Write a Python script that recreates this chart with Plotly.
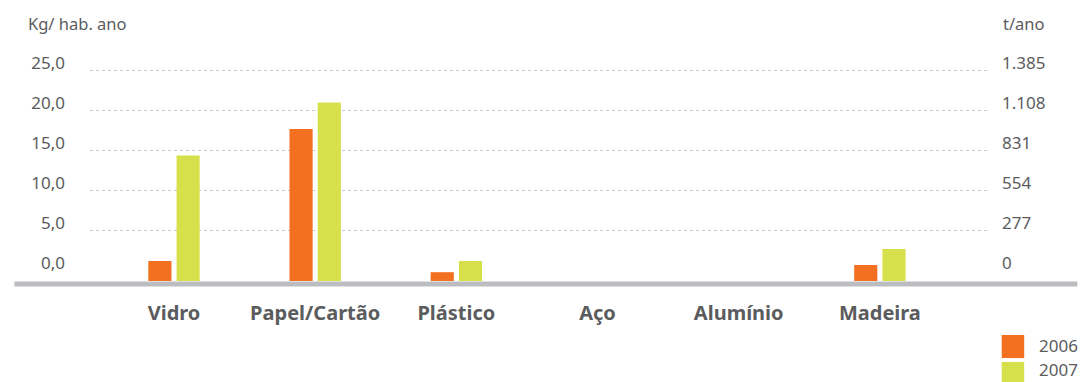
import plotly.graph_objects as go

# categories and values (kg / hab. ano, measured from the bar baseline)
materials = ["Vidro", "Papel/Cartão", "Plástico", "Aço", "Alumínio", "Madeira"]
kg_2006 = [2.5, 19.0, 1.1, 0, 0, 2.0]
kg_2007 = [15.7, 22.3, 2.5, 0, 0, 4.0]
years = ["2006", "2007"]

left_ticks = [0, 5, 10, 15, 20, 25]
right_ticks = [0, 277, 554, 831, 1108, 1385]
grid_ticks = [5, 10, 15, 20, 25]

ORANGE = "#F37021"
GREEN = "#D5E04B"
GREY_TXT = "#5b5c5e"

# the printed scale sits a little above the bar baseline in the original
offset = 1.375
top = 28.25
t_per_kg = 1385 / 25

fig = go.Figure()
for name, vals, col in [(years[0], kg_2006, ORANGE), (years[1], kg_2007, GREEN)]:
    fig.add_trace(go.Bar(x=materials, y=vals, name=name, marker_color=col,
                         marker_line_width=0, showlegend=False))

# invisible helper traces to activate the scale axes
fig.add_trace(go.Scatter(x=[None], y=[None], yaxis="y2", showlegend=False))
fig.add_trace(go.Scatter(x=[None], y=[None], yaxis="y3", showlegend=False))
fig.add_trace(go.Scatter(x=[None], y=[None], yaxis="y4", showlegend=False))

# page body adds an 8px margin, so the figure is 16px smaller than the window
fig.update_layout(
    width=1079, height=374,
    margin=dict(l=82, r=97, t=47, b=101),
    paper_bgcolor="white", plot_bgcolor="white",
    font=dict(family="Noto Sans", color=GREY_TXT, size=17),
    separators=",.",
    showlegend=False,
    barmode="group", bargap=0.6, bargroupgap=0.18,
    xaxis=dict(range=[-0.595, 5.78], showgrid=False, zeroline=False,
               showline=False, ticks="", ticklabelstandoff=18, automargin=False,
               tickfont=dict(size=20, weight="bold", color=GREY_TXT)),
    yaxis=dict(range=[0, top], showgrid=False, zeroline=False,
               showticklabels=False, automargin=False),
    yaxis2=dict(range=[-offset, top - offset], overlaying="y", side="left",
                tickvals=left_ticks, tickformat=".1f", showgrid=False,
                zeroline=False, ticklabelstandoff=24, ticklabelshift=-7,
                automargin=False, tickfont=dict(size=17, color=GREY_TXT)),
    yaxis3=dict(range=[-offset * t_per_kg, (top - offset) * t_per_kg],
                overlaying="y", side="right", tickvals=right_ticks,
                tickformat=",d", showgrid=False, zeroline=False,
                ticklabelstandoff=11, ticklabelshift=-7, automargin=False,
                tickfont=dict(size=17, color=GREY_TXT)),
    yaxis4=dict(range=[-offset, top - offset], overlaying="y",
                tickvals=grid_ticks, showticklabels=False, showgrid=True,
                gridcolor="#c9c9c9", griddash="dot", gridwidth=1,
                zeroline=False, automargin=False),
)

# grey baseline running past the plot area
fig.add_shape(type="line", xref="paper", yref="paper", x0=-0.084, x1=1.097,
              y0=-0.013, y1=-0.013, line=dict(color="#bcbdc0", width=5))

# legend: large colour squares with the year next to them
for i, (name, col) in enumerate([(years[0], ORANGE), (years[1], GREEN)]):
    y_top = -0.239 - i * 0.119
    fig.add_shape(type="rect", xref="paper", yref="paper",
                  x0=1.013, x1=1.038, y0=y_top - 0.102, y1=y_top,
                  fillcolor=col, line_width=0)
    fig.add_annotation(text=name, xref="paper", yref="paper",
                       x=1.052, y=y_top - 0.046 + i * 0.012, xanchor="left",
                       yanchor="middle", showarrow=False,
                       font=dict(size=17, color=GREY_TXT))

fig.add_annotation(text="Kg/ hab. ano", xref="paper", yref="paper",
                   x=-0.071, y=1.14, xanchor="left", yanchor="middle",
                   showarrow=False, font=dict(size=16.5, color=GREY_TXT))
fig.add_annotation(text="t/ano", xref="paper", yref="paper",
                   x=1.012, y=1.14, xanchor="left", yanchor="middle",
                   showarrow=False, font=dict(size=16.5, color=GREY_TXT))

fig.write_html("out.html")
